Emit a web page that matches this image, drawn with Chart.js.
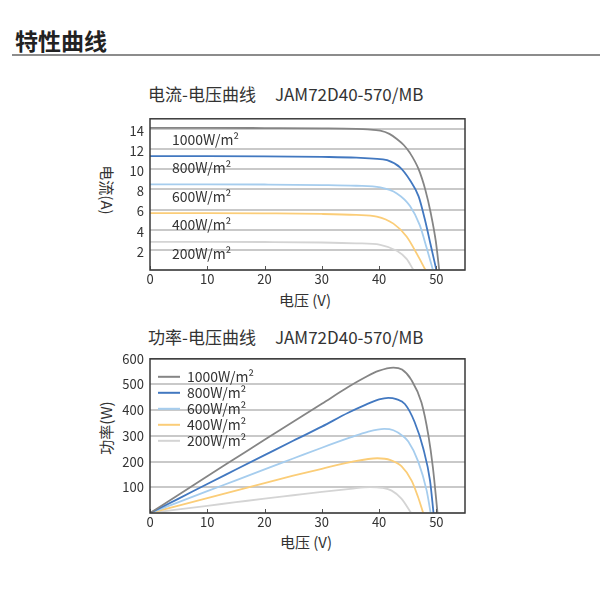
<!DOCTYPE html>
<html>
<head>
<meta charset="utf-8">
<script src="https://cdn.jsdelivr.net/npm/chart.js@4/dist/chart.umd.min.js"></script>
<style>
  body { margin: 0; background: #fff; }
  #page { position: relative; width: 600px; height: 600px; overflow: hidden; font-family: "Noto Sans CJK SC", "Noto Sans", sans-serif; color: #333; }
  .abs { position: absolute; white-space: pre; line-height: 1; }
  .rot { transform: translate(-50%, -50%) rotate(90deg); }
  .rotl { transform: translate(-50%, -50%) rotate(-90deg); }
  .ctr { transform: translate(-50%, -50%); }
</style>
</head>
<body>
<div id="page">
  <div class="abs" style="left:15px;top:29px;font-size:23px;font-weight:bold;color:#222;">特性曲线</div>
  <div class="abs" style="left:12px;top:54px;width:588px;height:2px;background:#8c8c8c;"></div>

  <div class="abs" style="left:148px;top:85px;font-size:17px;">电流-电压曲线<span style="margin-left:19px">JAM72D40-570/MB</span></div>
  <div class="abs rot" style="left:107px;top:190px;font-size:15px;">电流(A)</div>
  <div class="abs ctr" style="left:305px;top:299px;font-size:15px;">电压 (V)</div>
  <canvas id="ivChart" style="position:absolute;left:90px;top:105px;"></canvas>

  <div class="abs" style="left:148px;top:328px;font-size:17px;">功率-电压曲线<span style="margin-left:19px">JAM72D40-570/MB</span></div>
  <div class="abs rotl" style="left:105px;top:428px;font-size:15px;">功率(W)</div>
  <div class="abs ctr" style="left:306px;top:541px;font-size:15px;">电压 (V)</div>
  <canvas id="pvChart" style="position:absolute;left:90px;top:345px;"></canvas>
</div>

<script>
// irradiance levels
const irrLabels = ["1000W/m²", "800W/m²", "600W/m²", "400W/m²", "200W/m²"];
const lineColors = ["#858585", "#4278c0", "#a6cdee", "#fbcd78", "#d4d4d4"];

// I-V curves  [voltage V, current A]
const iv1000 = [[0,14.1],[10,14.1],[20,14.08],[30,14.05],[36,14.0],[38,13.95],[40.2,13.82],[41.8,13.5],[43.1,13.0],[44.3,12.4],[45.4,11.6],[46.9,10.0],[48.1,7.9],[49,5.7],[49.9,2.86],[50.5,0]];
const iv800 = [[0,11.3],[10,11.3],[20,11.28],[30,11.22],[36,11.15],[39,11.05],[41.4,10.9],[43.7,10.16],[45.4,8.9],[46.9,7.3],[48.1,4.76],[49,2.5],[50,0]];
const iv600 = [[0,8.5],[10,8.5],[20,8.48],[30,8.43],[36,8.36],[40.2,8.2],[43.1,7.6],[45.4,6.35],[47.1,4.45],[48.3,2.2],[49.4,0]];
const iv400 = [[0,5.65],[10,5.65],[20,5.62],[30,5.56],[36,5.46],[39.6,5.3],[42.5,4.6],[44.8,3.33],[46.6,1.6],[48.1,0]];
const iv200 = [[0,2.8],[10,2.8],[20,2.78],[30,2.73],[36,2.65],[40.2,2.5],[43.1,1.9],[44.8,1.1],[46,0]];

// P-V curves  [voltage V, power W]
const pv1000 = [[0,0],[5,71],[10,143],[15,214],[20,285],[25,355],[30,425],[34.6,490],[37.5,527],[39.9,553],[42.5,566],[44,558],[45.6,519],[47.4,430],[48.6,303],[49.4,176],[50.2,0]];
const pv800 = [[0,0],[5,56],[10,113],[15,169],[20,225],[25,281],[30,336],[34.6,390],[37.5,420],[40,442],[41.6,448],[43,443],[44.5,424],[46.2,354],[47.7,252],[48.9,125],[49.5,0]];
const pv600 = [[0,0],[5,42],[10,85],[15,127],[20,170],[25,212],[30,254],[35,294],[38,316],[40.9,327],[42.5,322],[44,302],[45.1,278],[46.8,202],[48.3,88],[49.0,0]];
const pv400 = [[0,0],[5,29],[10,58],[15,87],[20,116],[25,145],[30,172],[35,198],[39.7,213],[42,206],[43.9,182],[45.7,125],[46.8,62],[47.7,0]];
const pv200 = [[0,0],[5,14],[10,28],[15,42],[20,56],[25,69],[30,82],[35,94],[38.4,101],[40.5,98],[42.2,87],[43.9,56],[45.6,0]];

const ivSeries = [iv1000, iv800, iv600, iv400, iv200];
const pvSeries = [pv1000, pv800, pv600, pv400, pv200];

const tickFont = { family: '"Noto Sans CJK SC", "Noto Sans", sans-serif', size: 13 };
const textColor = "#333";

function makeDatasets(series) {
  return series.map((s, i) => ({
    label: irrLabels[i],
    data: s.map(p => ({ x: p[0], y: p[1] })),
    borderColor: lineColors[i],
    borderWidth: 1.8,
    pointRadius: 0,
    fill: false,
    cubicInterpolationMode: "monotone"
  }));
}

// frame, little x ticks, curve labels / legend
const decor = {
  id: "decor",
  afterDraw(chart, args, opts) {
    const { ctx, chartArea: a, scales } = chart;
    ctx.save();
    ctx.strokeStyle = "#555";
    ctx.lineWidth = 1;
    scales.x.ticks.forEach(t => {
      const px = Math.round(scales.x.getPixelForValue(t.value)) + 0.5;
      ctx.beginPath();
      ctx.moveTo(px, a.bottom);
      ctx.lineTo(px, a.bottom - 4);
      ctx.stroke();
    });
    ctx.font = '14px "Noto Sans CJK SC", "Noto Sans", sans-serif';
    ctx.fillStyle = textColor;
    ctx.textBaseline = "middle";
    ctx.textAlign = "left";
    if (opts.mode === "curves") {
      chart.data.datasets.forEach(ds => {
        const y = scales.y.getPixelForValue(ds.data[0].y) + 12;
        ctx.fillText(ds.label, a.left + 22, y);
      });
    } else {
      chart.data.datasets.forEach((ds, i) => {
        const y = a.top + 18 + i * 16;
        ctx.strokeStyle = ds.borderColor;
        ctx.lineWidth = 2;
        ctx.beginPath();
        ctx.moveTo(a.left + 8, y);
        ctx.lineTo(a.left + 30, y);
        ctx.stroke();
        ctx.fillText(ds.label, a.left + 37, y);
      });
    }
    ctx.strokeStyle = "#3a3a3a";
    ctx.lineWidth = 1.5;
    ctx.strokeRect(a.left, a.top, a.width, a.height);
    ctx.restore();
  }
};

function makeChart(id, w, h, series, yMax, yStep, pad, xHeight, yWidth, mode, yLabelOffset) {
  const canvas = document.getElementById(id);
  canvas.width = w;
  canvas.height = h;
  return new Chart(canvas, {
    type: "line",
    data: { datasets: makeDatasets(series) },
    options: {
      responsive: false,
      animation: false,
      layout: { padding: pad },
      plugins: { legend: { display: false }, tooltip: { enabled: false }, decor: { mode: mode } },
      scales: {
        x: {
          type: "linear", min: 0, max: 55,
          afterFit: s => { s.height = xHeight; },
          ticks: { stepSize: 10, includeBounds: false, color: textColor, font: tickFont, padding: 1, maxRotation: 0 },
          grid: { display: false, drawTicks: false },
          border: { display: false }
        },
        y: {
          min: 0, max: yMax,
          afterFit: s => { s.width = yWidth; },
          ticks: {
            stepSize: yStep, includeBounds: false, color: textColor, font: tickFont, padding: 6,
            labelOffset: yLabelOffset,
            callback: v => (v === 0 ? "" : v)
          },
          grid: { color: "#c9c9c9", lineWidth: 2, drawTicks: false },
          border: { display: false }
        }
      }
    },
    plugins: [decor]
  });
}

makeChart("ivChart", 390, 195, ivSeries, 15, 2, { top: 7, right: 15, left: 0, bottom: 0 }, 30, 60, "curves", 2);
makeChart("pvChart", 390, 190, pvSeries, 600, 100, { top: 10, right: 15, left: 0, bottom: 0 }, 22, 60, "legend", 0);
</script>
</body>
</html>
